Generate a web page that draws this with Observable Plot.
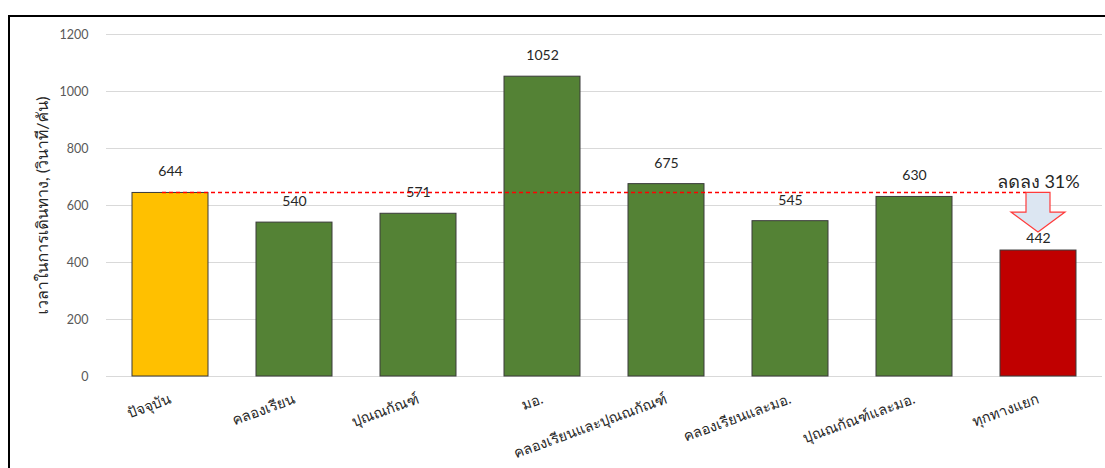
<!DOCTYPE html>
<html>
<head>
<meta charset="utf-8">
<script src="https://cdn.jsdelivr.net/npm/d3@7"></script>
<script src="https://cdn.jsdelivr.net/npm/@observablehq/plot@0.6"></script>
<style>
  body { margin: 0; background: #fff; }
  #wrap { position: relative; width: 1105px; height: 468px; overflow: hidden; background: #fff; }
  #frame { position: absolute; left: 8px; top: 15px; width: 1200px; height: 600px; border: 2px solid #000; box-sizing: border-box; }
  #chart { position: absolute; left: 0; top: 0; }
  #chart svg { overflow: visible; }
</style>
</head>
<body>
<div id="wrap"><div id="frame"></div><div id="chart"></div></div>
<script>
// Travel time per vehicle for each intersection scenario
const scenarios = [
  "ปัจจุบัน",
  "คลองเรียน",
  "ปุณณกัณฑ์",
  "มอ.",
  "คลองเรียนและปุณณกัณฑ์",
  "คลองเรียนและมอ.",
  "ปุณณกัณฑ์และมอ.",
  "ทุกทางแยก"
];
const travelTimes = [644, 540, 571, 1052, 675, 545, 630, 442];
const yTicks = [0, 200, 400, 600, 800, 1000, 1200];
const yLabel = "เวลาในการเดินทาง, (วินาที/คัน)";

const data = scenarios.map((s, i) => ({scenario: s, time: travelTimes[i], index: i}));
const baseline = data[0];
const best = data[data.length - 1];
const reduction = Math.round((baseline.time - best.time) / baseline.time * 100);
const reductionLabel = `ลดลง ${reduction}%`;

const FONT = "Lato, Tahoma, 'Leelawadee UI', Loma, Garuda, Waree, 'Noto Sans Thai', 'Noto Sans', sans-serif";
const barFill = d => d.index === 0 ? "#FFC000" : d.index === data.length - 1 ? "#C00000" : "#548235";

// Dashed reference at the current travel time plus the block arrow pointing down to the best case
function reductionMarker(index, scales) {
  const x = scales.x, y = scales.y;
  const bw = x.bandwidth ? x.bandwidth() : 76;
  const cx0 = x(baseline.scenario) + bw / 2;
  const cx1 = x(best.scenario) + bw / 2;
  const yTop = y(baseline.time);
  const yTip = y(best.time) - 18;
  const shaft = 12, head = 27, headH = 20;
  const g = d3.create("svg:g");
  g.append("line")
    .attr("x1", cx0 - 8).attr("x2", cx1 - shaft)
    .attr("y1", yTop).attr("y2", yTop)
    .attr("stroke", "#FF0000").attr("stroke-width", 1.6)
    .attr("stroke-dasharray", "4,3");
  const p = d3.path();
  p.moveTo(cx1 - shaft, yTop);
  p.lineTo(cx1 + shaft, yTop);
  p.lineTo(cx1 + shaft, yTip - headH);
  p.lineTo(cx1 + head, yTip - headH);
  p.lineTo(cx1, yTip);
  p.lineTo(cx1 - head, yTip - headH);
  p.lineTo(cx1 - shaft, yTip - headH);
  p.closePath();
  g.append("path").attr("d", p.toString())
    .attr("fill", "#DCE6F2").attr("stroke", "#FF3B3B").attr("stroke-width", 1.2);
  return g.node();
}

const chart = Plot.plot({
  width: 1105,
  height: 468,
  marginLeft: 106,
  marginRight: 3,
  marginTop: 34,
  marginBottom: 92,
  style: {fontFamily: FONT, background: "transparent"},
  x: {domain: scenarios, paddingInner: 0.39, paddingOuter: 0.195, label: null},
  y: {domain: [0, 1200], label: null},
  marks: [
    Plot.gridY(yTicks, {stroke: "#d9d9d9", strokeOpacity: 1, strokeWidth: 1}),
    Plot.axisY({ticks: yTicks, tickFormat: d => String(d), tickSize: 0, tickPadding: 18, fontSize: 12.5, color: "#595959", label: null}),
    Plot.axisX({tickSize: 0, tickPadding: 22, tickRotate: -20, fontSize: 14.5, color: "#262626", label: null}),
    Plot.text([yLabel], {frameAnchor: "left", textAnchor: "middle", rotate: -90, dx: -64, fontSize: 16, fill: "#262626"}),
    Plot.barY(data, {x: "scenario", y: "time", fill: barFill, stroke: "#3a3a3a", strokeWidth: 1}),
    Plot.text(data.filter(d => d !== best), {x: "scenario", y: "time", text: d => String(d.time), dy: -21, fontSize: 14, fill: "#262626"}),
    reductionMarker,
    Plot.text([best], {x: "scenario", y: "time", text: d => String(d.time), dy: -12, fontSize: 14, fill: "#262626"}),
    Plot.text([best], {x: "scenario", y: baseline.time, text: () => reductionLabel, dy: -11, fontSize: 18, fill: "#262626"})
  ]
});
document.getElementById("chart").appendChild(chart);
</script>
</body>
</html>
